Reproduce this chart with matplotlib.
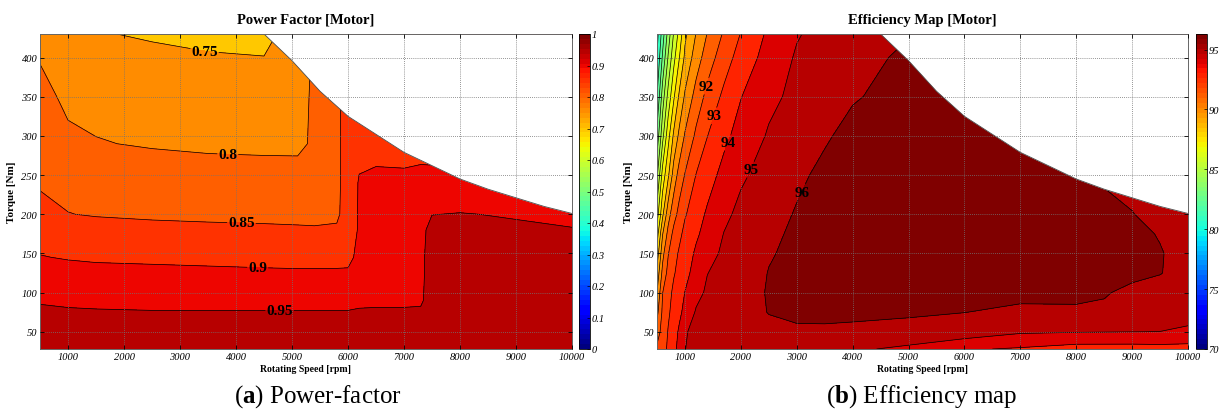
import numpy as np
import matplotlib
matplotlib.use('Agg')
import matplotlib.pyplot as plt
from matplotlib import colors, cm

plt.rcParams['font.family'] = ['Liberation Serif', 'DejaVu Serif']
plt.rcParams['mathtext.fontset'] = 'custom'
plt.rcParams['mathtext.rm'] = 'Liberation Serif'
plt.rcParams['mathtext.bf'] = 'Liberation Serif:bold'

# torque / speed limit of the motor (white above it)
env_speed = [4500, 4750, 5000, 5500, 6000, 6500, 7000, 7500, 8000, 8500, 9000, 9500, 10000]
env_torque = [430, 413, 396, 357, 325, 302, 279, 262, 245, 232, 221, 210, 201]

# power factor map, one list per torque row
pf_speed = [500, 1000, 1500, 2500, 3500, 4500, 5100, 5400, 5800, 6000, 6200, 6500, 7000, 7300, 7500, 8000, 9000, 10000]
pf_torque = [28, 70, 90, 125, 145, 180, 200, 240, 265, 290, 350, 400, 430]
pf_t28 = [0.970, 0.970, 0.970, 0.970, 0.970, 0.970, 0.970, 0.970, 0.970, 0.970, 0.970, 0.970, 0.970, 0.970, 0.970, 0.970, 0.970, 0.970]
pf_t70 = [0.956, 0.956, 0.955, 0.954, 0.954, 0.954, 0.954, 0.954, 0.954, 0.954, 0.955, 0.955, 0.955, 0.955, 0.962, 0.965, 0.965, 0.965]
pf_t90 = [0.948, 0.945, 0.944, 0.943, 0.943, 0.943, 0.943, 0.943, 0.943, 0.943, 0.945, 0.946, 0.946, 0.947, 0.960, 0.965, 0.965, 0.964]
pf_t125 = [0.920, 0.915, 0.912, 0.910, 0.908, 0.906, 0.905, 0.905, 0.905, 0.905, 0.915, 0.925, 0.930, 0.945, 0.960, 0.963, 0.963, 0.960]
pf_t145 = [0.902, 0.897, 0.894, 0.892, 0.890, 0.888, 0.887, 0.887, 0.888, 0.890, 0.910, 0.920, 0.925, 0.945, 0.960, 0.962, 0.960, 0.958]
pf_t180 = [0.880, 0.872, 0.866, 0.862, 0.860, 0.858, 0.856, 0.855, 0.856, 0.875, 0.905, 0.915, 0.920, 0.943, 0.958, 0.957, 0.954, 0.951]
pf_t200 = [0.865, 0.851, 0.847, 0.843, 0.840, 0.838, 0.837, 0.836, 0.842, 0.872, 0.905, 0.915, 0.920, 0.935, 0.9495, 0.951, 0.948, 0.945]
pf_t240 = [0.845, 0.838, 0.832, 0.828, 0.826, 0.825, 0.824, 0.830, 0.840, 0.870, 0.904, 0.910, 0.912, 0.915, 0.930, 0.930, 0.930, 0.930]
pf_t265 = [0.840, 0.830, 0.822, 0.815, 0.810, 0.808, 0.806, 0.815, 0.840, 0.870, 0.895, 0.898, 0.896, 0.899, 0.897, 0.920, 0.920, 0.920]
pf_t290 = [0.830, 0.810, 0.803, 0.795, 0.790, 0.788, 0.790, 0.807, 0.840, 0.870, 0.885, 0.885, 0.885, 0.890, 0.890, 0.910, 0.910, 0.910]
pf_t350 = [0.815, 0.790, 0.783, 0.780, 0.775, 0.772, 0.785, 0.807, 0.840, 0.870, 0.880, 0.880, 0.880, 0.880, 0.890, 0.905, 0.905, 0.905]
pf_t400 = [0.797, 0.775, 0.765, 0.760, 0.755, 0.751, 0.780, 0.806, 0.840, 0.870, 0.880, 0.880, 0.880, 0.880, 0.890, 0.905, 0.905, 0.905]
pf_t430 = [0.785, 0.765, 0.753, 0.745, 0.735, 0.735, 0.775, 0.806, 0.840, 0.870, 0.880, 0.880, 0.880, 0.880, 0.890, 0.905, 0.905, 0.905]
pf_levels = [0.7, 0.75, 0.8, 0.85, 0.9, 0.95, 1.0]
pf_labels = [(0.75, (3437, 408)), (0.8, (3855, 280)), (0.85, (4098, 191)),
             (0.9, (4390, 137)), (0.95, (4780, 81))]

# efficiency map [%], one list per torque row
eff_speed = [500, 600, 700, 800, 900, 1000, 1200, 1400, 1700, 2000, 2500, 3000, 3500, 4000, 5000, 6000, 7000, 8000, 8500, 9000, 9500, 10000]
eff_torque = [28, 50, 75, 100, 125, 150, 175, 200, 250, 300, 350, 400, 430]
eff_t28 = [92.2, 92.6, 93.17, 93.72, 94.33, 94.98, 95.3, 95.45, 95.55, 95.6, 95.55, 95.45, 95.3, 95.15, 94.8, 94.1, 93.9, 93.6, 93.6, 93.6, 93.65, 93.65]
eff_t50 = [91.5, 92.4, 93.06, 93.6, 94.15, 94.9, 95.3, 95.55, 95.7, 95.8, 95.85, 95.85, 95.85, 95.8, 95.7, 95.6, 95.12, 95.05, 95.03, 95.01, 94.99, 94.8]
eff_t75 = [90.7, 92.2, 92.85, 93.35, 93.8, 94.27, 95.1, 95.4, 95.6, 95.75, 96.02, 96.2, 96.22, 96.2, 96.12, 96.01, 95.85, 95.9, 95.85, 95.65, 95.6, 95.45]
eff_t100 = [90.0, 91.98, 92.6, 93.25, 93.6, 94.02, 94.7, 95.15, 95.4, 95.6, 96.07, 96.25, 96.3, 96.3, 96.3, 96.25, 96.2, 96.15, 96.07, 95.8, 95.7, 95.5]
eff_t125 = [89.3, 91.3, 92.3, 92.9, 93.35, 93.7, 94.38, 94.98, 95.3, 95.5, 96.03, 96.3, 96.4, 96.45, 96.45, 96.4, 96.35, 96.3, 96.25, 96.2, 96.03, 95.7]
eff_t150 = [88.4, 90.7, 91.95, 92.6, 93.15, 93.5, 94.15, 94.6, 95.2, 95.4, 95.93, 96.2, 96.35, 96.45, 96.5, 96.45, 96.4, 96.35, 96.3, 96.25, 96.05, 95.7]
eff_t175 = [87.5, 89.95, 91.3, 92.3, 92.75, 93.3, 93.85, 94.35, 95.03, 95.3, 95.82, 96.15, 96.35, 96.45, 96.5, 96.5, 96.45, 96.35, 96.3, 96.2, 95.95, 95.7]
eff_t200 = [86.5, 88.8, 90.6, 91.6, 92.35, 92.9, 93.6, 94.13, 94.78, 95.25, 95.65, 96.07, 96.3, 96.4, 96.5, 96.5, 96.45, 96.35, 96.2, 96.02, 95.8, 95.7]
eff_t250 = [84.8, 87.4, 88.83, 90.45, 91.4, 92.05, 93.03, 93.6, 94.3, 94.85, 95.4, 95.83, 96.2, 96.35, 96.45, 96.45, 96.4, 96.3, 95.9, 95.8, 95.7, 95.6]
eff_t300 = [83.3, 85.7, 87.65, 89.2, 90.25, 91.1, 92.2, 92.98, 93.78, 94.35, 95.1, 95.5, 95.9, 96.25, 96.45, 96.4, 96.3, 96.0, 95.9, 95.8, 95.7, 95.6]
eff_t350 = [81.98, 84.5, 86.33, 87.86, 89.2, 90.14, 91.4, 92.29, 93.22, 93.97, 94.77, 95.24, 95.59, 95.93, 96.3, 96.3, 96.2, 96.0, 95.9, 95.8, 95.7, 95.6]
eff_t400 = [81.02, 83.15, 85.1, 86.7, 87.98, 89.2, 90.5, 91.5, 92.55, 93.4, 94.4, 95.1, 95.35, 95.64, 96.2, 96.2, 96.1, 96.0, 95.9, 95.8, 95.7, 95.6]
eff_t430 = [80.6, 82.5, 84.4, 86.1, 87.36, 88.8, 90.04, 91.04, 92.13, 93.04, 94.19, 94.93, 95.3, 95.6, 95.95, 95.9, 95.9, 95.8, 95.7, 95.6, 95.6, 95.6]
eff_levels = [70, 71, 72, 73, 74, 75, 76, 77, 78, 79, 80, 81, 82, 83, 84, 85, 86, 87, 88, 89, 90, 91, 92, 93, 94, 95, 96, 97]
eff_labels = [(92, (1359, 364)), (93, (1507, 326)), (94, (1747, 292)),
              (95, (2134, 258)), (96, (3068, 229))]

pf = np.vstack([pf_t28, pf_t70, pf_t90, pf_t125, pf_t145, pf_t180, pf_t200,
                pf_t240, pf_t265, pf_t290, pf_t350, pf_t400, pf_t430])
eff = np.vstack([eff_t28, eff_t50, eff_t75, eff_t100, eff_t125, eff_t150, eff_t175,
                 eff_t200, eff_t250, eff_t300, eff_t350, eff_t400, eff_t430])

jet64 = plt.get_cmap('jet', 64)
fig = plt.figure(figsize=(12.2, 4.14), dpi=100)


def panel(rect, cbrect, speed, torque, z, levels, vmin, vmax, labels, title,
          cticks, cticklabels):
    ax = fig.add_axes(rect)
    norm = colors.Normalize(vmin, vmax)
    # MATLAB style: each band takes the colour of its lower level
    fills = [jet64(norm(lv)) for lv in levels[:-1]]
    ax.contourf(speed, torque, z, levels=levels, colors=fills, zorder=1)
    labelled = [lv for lv, pos in labels]
    plain = [lv for lv in levels[1:-1] if lv not in labelled]
    ax.contour(speed, torque, z, levels=plain, colors='k', linewidths=0.5, zorder=2)
    # labelled lines: one contour set each so the label sits on the right line
    for lv, pos in labels:
        cs = ax.contour(speed, torque, z, levels=[lv], colors='k',
                        linewidths=0.5, zorder=2)
        texts = ax.clabel(cs, manual=[pos], inline=True, fmt='%g',
                          fontsize=11, inline_spacing=1)
        for t in texts:
            t.set_rotation(0)
            t.set_fontweight('bold')
            t.set_zorder(4)
    ax.fill_between(env_speed, env_torque, 430, color='white', lw=0, zorder=2.2)
    ax.plot(env_speed, env_torque, color='0.3', lw=0.6, zorder=2.3)

    ax.set_xlim(500, 10000)
    ax.set_ylim(28, 430)
    ax.set_xticks(range(1000, 10001, 1000))
    ax.set_yticks(range(50, 401, 50))
    ax.set_axisbelow(False)
    ax.grid(True, color='0.45', linestyle=(0, (1, 1.5)), linewidth=0.6)
    ax.tick_params(direction='in', length=3, width=0.6, top=True, right=True,
                   labelsize=7.5, pad=2)
    for lab in ax.get_xticklabels() + ax.get_yticklabels():
        lab.set_fontstyle('italic')
    for sp in ax.spines.values():
        sp.set_color('0.4')
        sp.set_linewidth(0.7)
    ax.set_title(title, fontsize=10.5, fontweight='bold', pad=8)
    ax.set_xlabel('Rotating Speed [rpm]', fontsize=7, fontweight='bold', labelpad=2)
    ax.set_ylabel('Torque [Nm]', fontsize=8, fontweight='bold', labelpad=4)

    cax = fig.add_axes(cbrect)
    sm = cm.ScalarMappable(norm=norm, cmap=jet64)
    cb = fig.colorbar(sm, cax=cax)
    cb.set_ticks(cticks)
    cb.set_ticklabels(cticklabels)
    cb.outline.set_linewidth(0.6)
    cax.tick_params(direction='in', length=2, width=0.5, labelsize=7.5, pad=1)
    for lab in cax.get_yticklabels():
        lab.set_fontstyle('italic')
    return ax


panel([40 / 1220, 64 / 414, 532 / 1220, 315 / 414], [579 / 1220, 64 / 414, 11 / 1220, 315 / 414],
      pf_speed, pf_torque, pf, pf_levels, 0.0, 1.0, pf_labels, 'Power Factor [Motor]',
      [0, 0.1, 0.2, 0.3, 0.4, 0.5, 0.6, 0.7, 0.8, 0.9, 1.0],
      ['0', '0.1', '0.2', '0.3', '0.4', '0.5', '0.6', '0.7', '0.8', '0.9', '1'])

panel([657 / 1220, 64 / 414, 531 / 1220, 315 / 414], [1196 / 1220, 64 / 414, 11 / 1220, 315 / 414],
      eff_speed, eff_torque, eff, eff_levels, 70, 96.3, eff_labels, 'Efficiency Map [Motor]',
      [70, 75, 80, 85, 90, 95], ['70', '75', '80', '85', '90', '95'])

fig.text(318 / 1220, 17 / 414, r'($\mathbf{a}$) Power-factor', fontsize=18,
         ha='center', va='center')
fig.text(922 / 1220, 17 / 414, r'($\mathbf{b}$) Efficiency map', fontsize=18,
         ha='center', va='center')

fig.savefig('out.png', dpi=100)
